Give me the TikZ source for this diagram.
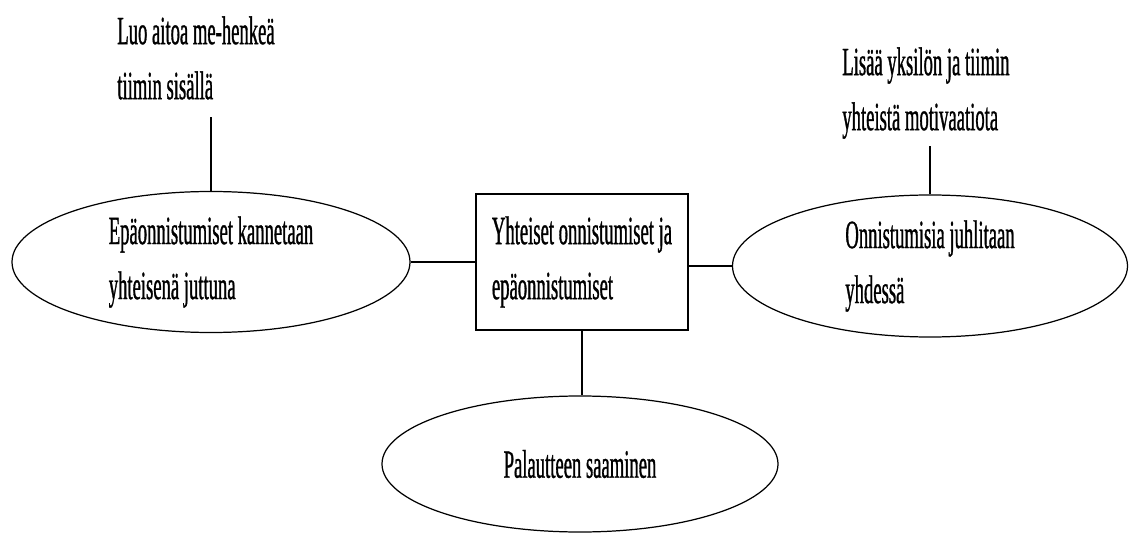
\documentclass[tikz,border=0pt]{standalone}
\usepackage{fontspec}
\setmainfont{Liberation Serif}
\newfontfamily\narrowserif[FakeStretch=0.465,FakeBold=0.8]{Liberation Serif}
\usetikzlibrary{shapes.geometric}
\tikzset{
    bubble/.style={
        ellipse,
        draw,
        line width=0.7pt,
        inner sep=0mm,
        align=left,
        font=\narrowserif\fontsize{22.8}{31.3}\selectfont
    },
    topic/.style={
        rectangle,
        draw,
        line width=1.2pt,
        inner sep=0mm,
        minimum width=4.24cm,
        minimum height=2.72cm,
        align=left,
        font=\narrowserif\fontsize{22.8}{31.3}\selectfont
    },
    note/.style={
        inner sep=0mm,
        anchor=north west,
        align=left,
        font=\narrowserif\fontsize{22.8}{31.3}\selectfont
    },
    link/.style={line width=0.85pt}
}
\newcommand{\bubble}[6] {
    \node[bubble,minimum width={#4},minimum height={#5}] (#1) at ({#2}, {#3}) {#6};
}

\begin{document}
\begin{tikzpicture}[x=0.2mm,y=-0.2mm]
    \useasboundingbox (0,0) rectangle (1133,535);
    \node[topic] (box) at (582,262) {Yhteiset onnistumiset ja\\epäonnistumiset};
    \bubble{failE}{211}{262}{7.96cm}{2.82cm}{Epäonnistumiset kannetaan\\yhteisenä juttuna}
    \bubble{succE}{930}{266}{7.9cm}{2.84cm}{Onnistumisia juhlitaan\\yhdessä}
    \bubble{feedE}{580}{464}{7.92cm}{2.72cm}{Palautteen saaminen}
    \node[note] (topL) at (117,16) {Luo aitoa me-henkeä\\tiimin sisällä};
    \node[note] (topR) at (842,47) {Lisää yksilön ja tiimin\\yhteistä motivaatiota};
    % connectors
    \draw[link] (failE.east) -- (box.west);
    \draw[link] (succE.west) -- (succE.west -| box.east);
    \draw[link] (box.south) -- (box.south |- feedE.north);
    \draw[link,shorten >=3.4mm] (failE.north) -- (failE.north |- topL.south);
    \draw[link,shorten >=1.4mm] (succE.north) -- (succE.north |- topR.south);
\end{tikzpicture}
\end{document}
